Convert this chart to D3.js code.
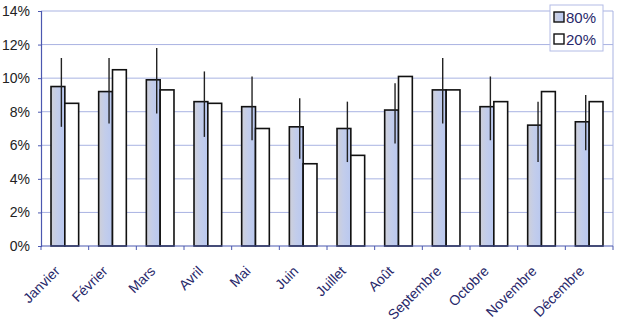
<!DOCTYPE html>
<html>
<head>
<meta charset="utf-8">
<script src="https://cdn.jsdelivr.net/npm/d3@7"></script>
<style>
  body { margin: 0; background: #fff; }
  text { font-family: "Liberation Sans", Arial, sans-serif; }
</style>
</head>
<body>
<script>
//months on the x axis
var months = ["Janvier", "Février", "Mars", "Avril", "Mai", "Juin", "Juillet", "Août", "Septembre", "Octobre", "Novembre", "Décembre"];
//series names for the legend
var seriesNames = ["80%", "20%"];
//values (percent)
var values80 = [9.5, 9.2, 9.9, 8.6, 8.3, 7.1, 7.0, 8.1, 9.3, 8.3, 7.2, 7.4];
var values20 = [8.5, 10.5, 9.3, 8.5, 7.0, 4.9, 5.4, 10.1, 9.3, 8.6, 9.2, 8.6];
//error bar ends on the 80% series
var errLow = [7.1, 7.3, 7.9, 6.5, 6.3, 5.2, 5.0, 6.1, 7.3, 6.3, 5.0, 5.7];
var errHigh = [11.2, 11.2, 11.8, 10.4, 10.1, 8.8, 8.6, 9.7, 11.2, 10.1, 8.6, 9.0];
var yTicks = [0, 2, 4, 6, 8, 10, 12, 14];

var width = 622, height = 322;
//plot area edges
var plotLeft = 41, plotRight = 613, plotTop = 11, plotBottom = 246;

var svg = d3.select("body").append("svg")
    .attr("width", width)
    .attr("height", height);

//gradient for the 80% bars (grey to pale blue)
var grad = svg.append("defs").append("linearGradient")
    .attr("id", "g80")
    .attr("x1", "0%").attr("x2", "100%").attr("y1", "0%").attr("y2", "0%");
grad.append("stop").attr("offset", "0%").attr("stop-color", "#cfd0d8");
grad.append("stop").attr("offset", "45%").attr("stop-color", "#c3cdea");
grad.append("stop").attr("offset", "100%").attr("stop-color", "#b9c8f0");

var x = d3.scaleBand()
    .domain(months)
    .range([plotLeft, plotRight])
    .padding(0);

var xSeries = d3.scaleBand()
    .domain(seriesNames)
    .range([x.bandwidth() * 0.21, x.bandwidth() * 0.79])
    .padding(0);

var y = d3.scaleLinear()
    .domain([0, 14])
    .range([plotBottom, plotTop]);

//gridlines
svg.append("g").selectAll("line")
    .data(yTicks.slice(1))
    .enter().append("line")
    .attr("x1", plotLeft).attr("x2", plotRight)
    .attr("y1", function(d){ return y(d); })
    .attr("y2", function(d){ return y(d); })
    .attr("stroke", "#a9b3e2")
    .attr("stroke-width", 1);

//right border of plot
svg.append("line")
    .attr("x1", plotRight).attr("x2", plotRight)
    .attr("y1", plotTop).attr("y2", plotBottom)
    .attr("stroke", "#a9b3e2");

//y axis
var yAxis = svg.append("g")
    .attr("transform", "translate(" + plotLeft + ",0)")
    .call(d3.axisLeft(y).tickValues(yTicks).tickSize(3).tickPadding(8)
        .tickFormat(function(d){ return d + "%"; }));
yAxis.select(".domain").attr("stroke", "#4b58b0").attr("stroke-width", 1.2);
yAxis.selectAll(".tick line").attr("stroke", "#4b58b0");
yAxis.selectAll("text")
    .attr("font-size", 14)
    .attr("fill", "#222")
    .attr("font-family", "Liberation Sans, Arial, sans-serif");

//bars
var groups = svg.append("g").selectAll("g")
    .data(months)
    .enter().append("g")
    .attr("transform", function(d){ return "translate(" + x(d) + ",0)"; });

groups.append("rect")
    .attr("x", xSeries("80%"))
    .attr("width", xSeries.bandwidth())
    .attr("y", function(d, i){ return y(values80[i]); })
    .attr("height", function(d, i){ return plotBottom - y(values80[i]); })
    .attr("fill", "url(#g80)")
    .attr("stroke", "#111")
    .attr("stroke-width", 1.6);

groups.append("rect")
    .attr("x", xSeries("20%"))
    .attr("width", xSeries.bandwidth())
    .attr("y", function(d, i){ return y(values20[i]); })
    .attr("height", function(d, i){ return plotBottom - y(values20[i]); })
    .attr("fill", "#fff")
    .attr("stroke", "#111")
    .attr("stroke-width", 1.6);

//error bars on the 80% series
groups.append("line")
    .attr("x1", xSeries("80%") + xSeries.bandwidth() * 0.75)
    .attr("x2", xSeries("80%") + xSeries.bandwidth() * 0.75)
    .attr("y1", function(d, i){ return y(errLow[i]); })
    .attr("y2", function(d, i){ return y(errHigh[i]); })
    .attr("stroke", "#222")
    .attr("stroke-width", 1.4);

//x axis
var xAxis = svg.append("g")
    .attr("transform", "translate(0," + plotBottom + ")");
xAxis.append("line")
    .attr("x1", plotLeft).attr("x2", plotRight)
    .attr("stroke", "#4b58b0").attr("stroke-width", 1.2);
xAxis.selectAll(".tk")
    .data(months.concat(["end"]))
    .enter().append("line")
    .attr("class", "tk")
    .attr("x1", function(d, i){ return plotLeft + i * x.step(); })
    .attr("x2", function(d, i){ return plotLeft + i * x.step(); })
    .attr("y1", 0).attr("y2", 4)
    .attr("stroke", "#4b58b0");

xAxis.selectAll("text")
    .data(months)
    .enter().append("text")
    .attr("transform", function(d){
        return "translate(" + (x(d) + x.bandwidth() / 2 - 4) + ",26) rotate(-45)";
    })
    .attr("text-anchor", "end")
    .attr("font-size", 14)
    .attr("fill", "#28286a")
    .text(function(d){ return d; });

//legend
var legend = svg.append("g").attr("transform", "translate(550,5)");
legend.append("rect")
    .attr("width", 53).attr("height", 46)
    .attr("fill", "#fff")
    .attr("stroke", "#b3bce6");
var items = legend.selectAll(".item")
    .data(seriesNames)
    .enter().append("g")
    .attr("class", "item")
    .attr("transform", function(d, i){ return "translate(4," + (7 + i * 22) + ")"; });
items.append("rect")
    .attr("width", 10).attr("height", 10)
    .attr("fill", function(d, i){ return i == 0 ? "url(#g80)" : "#fff"; })
    .attr("stroke", "#111")
    .attr("stroke-width", 1.4);
items.append("text")
    .attr("x", 12).attr("y", 11)
    .attr("font-size", 15)
    .attr("fill", "#28286a")
    .text(function(d){ return d; });
</script>
</body>
</html>
